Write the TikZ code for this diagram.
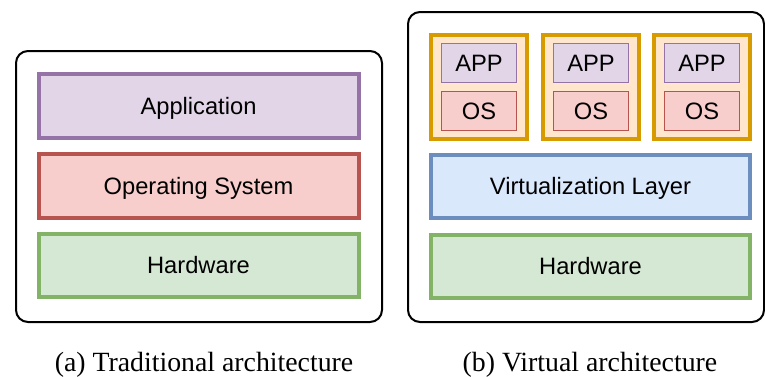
\documentclass[tikz,border=0pt]{standalone}
\usepackage{fontspec}
\setmainfont{Liberation Serif}
\newfontfamily\boxfont{Liberation Sans}
\definecolor{purpF}{HTML}{E1D5E7}\definecolor{purpD}{HTML}{9673A6}
\definecolor{redF}{HTML}{F8CECC}\definecolor{redD}{HTML}{B85450}
\definecolor{greenF}{HTML}{D5E8D4}\definecolor{greenD}{HTML}{82B366}
\definecolor{blueF}{HTML}{DAE8FC}\definecolor{blueD}{HTML}{6C8EBF}
\definecolor{orangeF}{HTML}{FFE6CC}\definecolor{orangeD}{HTML}{D79B00}
\tikzset{
  frame/.style={draw=black,line width=2pt,rounded corners=12pt,fill=white,inner sep=0pt},
  layer/.style={line width=4pt,inner sep=0pt,minimum width=320pt},
  vm/.style={draw=orangeD,fill=orangeF,line width=3.5pt,inner sep=0pt,minimum width=96pt,minimum height=104pt},
  small/.style={line width=1pt,inner sep=0pt,minimum width=75pt,minimum height=39pt},
  lbl/.style={font=\boxfont\fontsize{23.7}{28}\selectfont,anchor=base,inner sep=0pt},
  captext/.style={font=\fontsize{27.8}{32}\selectfont,anchor=base,inner sep=0pt},
}
\begin{document}
\begin{tikzpicture}[x=1pt,y=-1pt]
\useasboundingbox (0,0) rectangle (765,376);
% left panel
\node[frame,minimum width=366pt,minimum height=271pt] (lframe) at (199,186.5) {};
\node[layer,draw=purpD,fill=purpF,minimum height=64pt] (lapp) at (199,106) {};
\node[layer,draw=redD,fill=redF,minimum height=64pt] (los) at (199,186) {};
\node[layer,draw=greenD,fill=greenF,minimum height=63pt] (lhw) at (199,265.5) {};
\node[lbl] (tapp) at (198.5,114.4) {Application};
\node[lbl] (tos) at (198.5,194.4) {Operating System};
\node[lbl] (thw) at (198.5,273.9) {Hardware};
% right panel
\node[frame,minimum width=356pt,minimum height=310pt] (rframe) at (586,167) {};
\foreach \i/\cx in {1/479,2/591,3/702}{
  \node[vm] (vm\i) at (\cx,87) {};
  \node[small,draw=purpD,fill=purpF] (app\i) at (\cx,63) {};
  \node[small,draw=redD,fill=redF] (os\i) at (\cx,111) {};
  \node[lbl] (tapp\i) at (\cx,71.4) {APP};
  \node[lbl] (tos\i) at (\cx,119.4) {OS};
}
\node[layer,draw=blueD,fill=blueF,minimum width=319pt,minimum height=63pt] (virt) at (590.5,186.5) {};
\node[layer,draw=greenD,fill=greenF,minimum width=319pt,minimum height=63pt] (rhw) at (590.5,266.5) {};
\node[lbl] (tvirt) at (590.5,194.9) {Virtualization Layer};
\node[lbl] (trhw) at (590.5,274.9) {Hardware};
% captions
\node[captext] (capa) at (204,371) {(a) Traditional architecture};
\node[captext] (capb) at (590,371) {(b) Virtual architecture};
\end{tikzpicture}
\end{document}
